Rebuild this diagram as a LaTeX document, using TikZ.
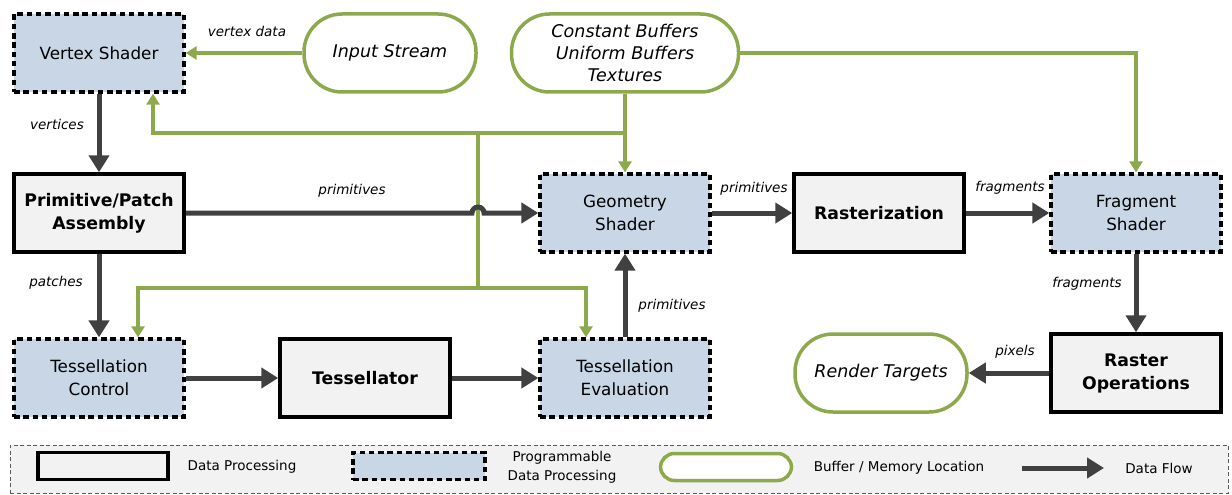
\documentclass[tikz,border=0pt]{standalone}
\usepackage{fontspec}
\setmainfont{DejaVu Sans}
\usetikzlibrary{arrows.meta,calc}
\definecolor{grn}{HTML}{8CAA4B}
\definecolor{dk}{HTML}{404040}
\definecolor{pfill}{HTML}{C8D6E6}
\definecolor{gfill}{HTML}{F2F2F2}
\begin{document}
\begin{tikzpicture}[x=1pt,y=-1pt,
 proc/.style={draw=black, line width=3.5pt, fill=gfill, minimum width=170pt, minimum height=78pt, inner sep=0pt, align=center, font=\fontsize{17.3}{23}\selectfont\bfseries},
 prog/.style={draw=black, line width=3.3pt, dash pattern=on 5.5pt off 3.8pt, fill=pfill, minimum width=170pt, minimum height=78pt, inner sep=0pt, align=center, font=\fontsize{16.8}{23}\selectfont},
 buf/.style={draw=grn, line width=3.5pt, fill=white, rounded corners=38pt, minimum height=78pt, inner sep=0pt, align=center, font=\fontsize{17.5}{22}\selectfont\itshape},
 flow/.style={draw=dk, line width=5pt, -{Triangle[length=17pt,width=20pt]}},
 gflow/.style={draw=grn, line width=3.5pt, -{Triangle[length=11pt,width=13pt]}},
 gline/.style={draw=grn, line width=3.5pt},
 lbl/.style={font=\fontsize{13.5}{16}\selectfont\itshape, inner sep=0pt},
 leg/.style={font=\fontsize{13.5}{19}\selectfont, align=center, inner sep=0pt}
]
\useasboundingbox (0,0) rectangle (1232,495);

% legend frame
\node[draw=black!65, line width=0.8pt, dash pattern=on 4pt off 2.5pt, fill=gfill, minimum width=1218pt, minimum height=48pt, inner sep=0pt] (legend) at (619,469) {};

% nodes
\node[prog] (vs) at (99,53) {Vertex Shader};
\node[buf, minimum width=172pt] (is) at (390,53) {Input Stream};
\node[buf, minimum width=227pt] (cb) at (625,53) {Constant Buffers\\Uniform Buffers\\Textures};
\node[proc] (pa) at (99,213) {Primitive/Patch\\Assembly};
\node[prog] (gs) at (625,213) {Geometry\\Shader};
\node[proc] (ra) at (879,213) {Rasterization};
\node[prog] (fs) at (1136,213) {Fragment\\Shader};
\node[prog] (tc) at (99,378) {Tessellation\\Control};
\node[proc] (te) at (365,378) {Tessellator};
\node[prog] (tv) at (625,378) {Tessellation\\Evaluation};
\node[buf, minimum width=172pt] (rt) at (881,373) {Render Targets};
\node[proc] (ro) at (1136,373) {Raster\\Operations};

% green network
\coordinate (y133) at (0,133);
\coordinate (j1) at (cb.south |- y133);
\coordinate (j2) at (478,133);
\coordinate (j3) at (478,288);
\coordinate (vsin) at ($(vs.south)+(54,0)$);
\coordinate (tcin) at ($(tc.north)+(39,0)$);
\coordinate (tvin) at ($(tv.north)+(-39,0)$);
\draw[gline] (cb.south) -- (j1);
\draw[gflow] (j1) -- (gs.north);
\draw[gflow] (j1) -- (j1 -| vsin) -- (vsin);
\draw[gline] (j2) -- (j3);
\draw[gflow] (j3) -- (j3 -| tcin) -- (tcin);
\draw[gflow] (j3) -- (j3 -| tvin) -- (tvin);
\draw[gflow] (cb.east) -- (cb.east -| fs.north) -- (fs.north);
\draw[gflow] (is.west) -- (vs.east);

% data flow
\coordinate (jl) at ($(j2 |- pa.east)+(-6,0)$);
\draw[flow] (vs.south) -- (pa.north);
\draw[flow] (pa.south) -- (tc.north);
\draw[flow] (pa.east) -- (jl) arc[start angle=180, end angle=360, radius=6] -- (gs.west);
\draw[flow] (tc.east) -- (te.west);
\draw[flow] (te.east) -- (tv.west);
\draw[flow] (tv.north) -- (gs.south);
\draw[flow] (gs.east) -- (ra.west);
\draw[flow] (ra.east) -- (fs.west);
\draw[flow] (fs.south) -- (ro.north);
\draw[flow] (ro.west) -- (rt.east);

% labels
\node[lbl] (l1) at (247,31) {vertex data};
\node[lbl] (l2) at (57,124) {vertices};
\node[lbl] (l3) at (352,191) {primitives};
\node[lbl] (l4) at (56,283) {patches};
\node[lbl] (l5) at (754,189) {primitives};
\node[lbl] (l6) at (1010,188) {fragments};
\node[lbl] (l7) at (672,306) {primitives};
\node[lbl] (l8) at (1087,284) {fragments};
\node[lbl] (l9) at (1015,352) {pixels};

% legend items
\node[proc, minimum width=130pt, minimum height=27pt] (k1) at (103,466) {};
\node[leg] (k1t) at (242,467) {Data Processing};
\node[prog, minimum width=132pt, minimum height=27pt] (k2) at (419,466) {};
\node[leg] (k2t) at (562,467) {Programmable\\Data Processing};
\node[buf, minimum width=131pt, minimum height=27pt, rounded corners=14pt] (k3) at (726,467) {};
\node[leg] (k3t) at (899,468) {Buffer / Memory Location};
\coordinate (k4a) at (1022,468);
\coordinate (k4b) at (1104,468);
\draw[flow] (k4a) -- (k4b);
\node[leg] (k4t) at (1159,468) {Data Flow};
\end{tikzpicture}
\end{document}
